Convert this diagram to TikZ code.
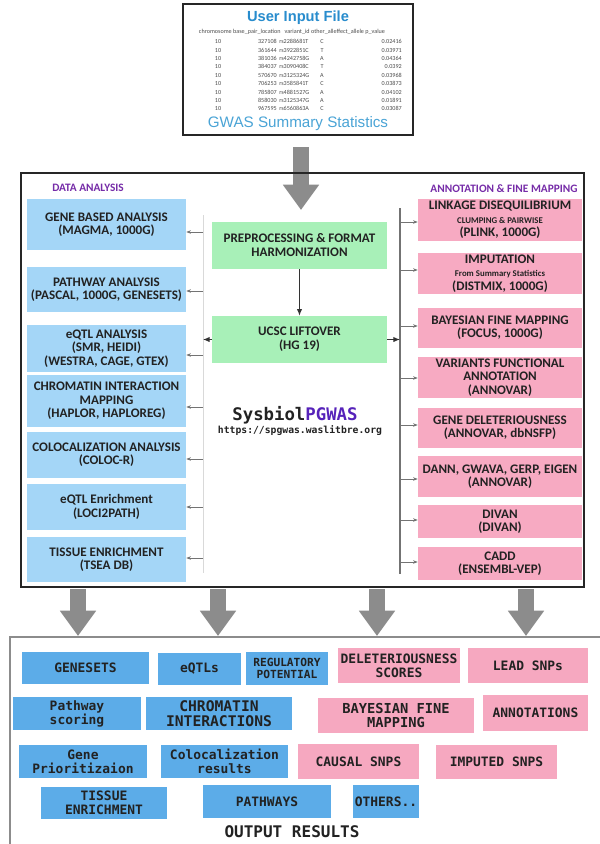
\documentclass[tikz,border=0pt]{standalone}
\usepackage{fontspec}
\newfontfamily\boxfont{Carlito}
\newfontfamily\headfont{Liberation Sans}
\newfontfamily\codefont{DejaVu Sans Mono}
\usetikzlibrary{arrows.meta}
\definecolor{anablue}{RGB}{164,214,247}
\definecolor{prepgreen}{RGB}{168,240,184}
\definecolor{annopink}{RGB}{247,170,194}
\definecolor{outblue}{RGB}{92,172,232}
\definecolor{outpink}{RGB}{246,168,192}
\definecolor{headpurple}{RGB}{118,44,168}
\definecolor{pgwaspurple}{RGB}{86,34,186}
\definecolor{titleblue}{RGB}{40,140,205}
\definecolor{gwasblue}{RGB}{74,164,214}
\definecolor{fatgray}{RGB}{140,140,140}
\definecolor{ink}{RGB}{34,34,34}
\newcommand{\subnote}[1]{{\fontsize{6.6}{7}\selectfont #1}}
\begin{document}
\begin{tikzpicture}[x=0.75pt,y=-0.75pt,
  every node/.style={inner sep=0pt,align=center,text=ink},
  spot/.style args={#1:#2:#3:#4}{minimum width=(#3-#1)*0.75pt,minimum height=(#4-#2)*0.75pt,at={({(#1+#3)/2},{(#2+#4)/2})}},
  anabox/.style={fill=anablue,font=\boxfont\bfseries\fontsize{9.8}{10}\selectfont},
  prepbox/.style={fill=prepgreen,font=\boxfont\bfseries\fontsize{9.8}{10.5}\selectfont},
  annobox/.style={fill=annopink,font=\boxfont\bfseries\fontsize{9.8}{10}\selectfont},
  outb/.style={fill=outblue,font=\codefont\bfseries\fontsize{9.7}{10.6}\selectfont},
  outp/.style={fill=outpink,font=\codefont\bfseries\fontsize{9.7}{10.6}\selectfont},
  tabtext/.style={font=\boxfont\fontsize{4.6}{5}\selectfont,text=black!70},
  sect/.style={font=\boxfont\bfseries\fontsize{8.5}{9}\selectfont,text=headpurple},
  tick/.style={draw=black!55,line width=0.5pt,-{Stealth[length=3.5pt,width=2.6pt]}},
  hub/.style={draw=black!80,line width=0.7pt,-{Latex[length=5pt,width=4pt]}},
  fat/.style={draw=fatgray,line width=12pt,-{Triangle[length=19pt,width=26pt]}}]
\useasboundingbox[fill=white] (0,0) rectangle (600,844);

% input file
\node[draw=black!85,line width=1.5pt,spot=183:4:413:135] (inputbox) {};
\node[font=\headfont\bfseries\fontsize{11}{11}\selectfont,text=titleblue] (inputtitle) at (298,18) {User Input File};
\node[tabtext] (tabhead) at (292,32) {chromosome base\_pair\_location\ \ \ variant\_id other\_alleffect\_allele p\_value};
\foreach \bp/\rs/\al/\pv [count=\i from 0] in {327108/rs2288681T/C/0.02416,361644/rs3922851C/T/0.03971,381036/rs4242758G/A/0.04364,384037/rs3090408C/T/0.0392,570670/rs3125324G/A/0.03968,706253/rs3585841T/C/0.03873,785807/rs4881527G/A/0.04102,858030/rs3125347G/A/0.01891,967595/rs6560863A/C/0.03087}{
  \pgfmathsetmacro{\ry}{41.7+8.4*\i}
  \node[tabtext] (chr\i) at (218,\ry) {10};
  \node[tabtext,anchor=east] (bp\i) at (277,\ry) {\bp};
  \node[tabtext,anchor=west] (rs\i) at (279,\ry) {\rs};
  \node[tabtext] (al\i) at (322,\ry) {\al};
  \node[tabtext,anchor=east] (pv\i) at (402,\ry) {\pv};
}
\node[font=\headfont\fontsize{11.4}{11.4}\selectfont,text=gwasblue] (inputfoot) at (298,124) {GWAS Summary Statistics};

\coordinate (feed) at (301,147);
\coordinate (feedtip) at (301,210);
\draw[fat] (feed) -- (feedtip);

% analysis frame
\node[draw=black!85,line width=1.9pt,spot=21:173:584:587] (analysis) {};
\node[sect] (datahead) at (88,188) {DATA ANALYSIS};
\node[sect] (annohead) at (504,189) {ANNOTATION \& FINE MAPPING};

\coordinate (lbustop) at (203,215);
\coordinate (lbusbot) at (203,573);
\draw[draw=black!15,line width=0.6pt] (lbustop) -- (lbusbot);
\coordinate (rbustop) at (400,208);
\coordinate (rbusbot) at (400,574);
\draw[draw=black!55,line width=0.9pt] (rbustop) -- (rbusbot);

\foreach \n/\ya/\yb/\ay/\txt in {1/199/250/232/{GENE BASED ANALYSIS\\(MAGMA, 1000G)},
    2/267/312/291/{PATHWAY ANALYSIS\\(PASCAL, 1000G, GENESETS)},
    3/325/372/355/{eQTL ANALYSIS\\(SMR, HEIDI)\\(WESTRA, CAGE, GTEX)},
    4/375/427/407/{CHROMATIN INTERACTION\\MAPPING\\(HAPLOR, HAPLOREG)},
    5/432/478/459/{COLOCALIZATION ANALYSIS\\(COLOC-R)},
    6/484/530/507/{eQTL Enrichment\\(LOCI2PATH)},
    7/537/582/558/{TISSUE ENRICHMENT\\(TSEA DB)}}{
  \node[anabox,spot=27:\ya:186:\yb] (ana\n) {\txt};
  \coordinate (lbus\n) at (203,\ay);
  \draw[tick] (lbus\n) -- (lbus\n -| ana\n.east);
}

\foreach \n/\ya/\yb/\ay/\txt in {1/199/241/222/{LINKAGE DISEQUILIBRIUM\\\subnote{CLUMPING \& PAIRWISE}\\(PLINK, 1000G)},
    2/253/294/270/{IMPUTATION\\\subnote{From Summary Statistics}\\(DISTMIX, 1000G)},
    3/308/348/326/{BAYESIAN FINE MAPPING\\(FOCUS, 1000G)},
    4/357/398/378/{VARIANTS FUNCTIONAL\\ANNOTATION\\(ANNOVAR)},
    5/408/448/425/{GENE DELETERIOUSNESS\\(ANNOVAR, dbNSFP)},
    6/456/497/479/{DANN, GWAVA, GERP, EIGEN\\(ANNOVAR)},
    7/505/538/520/{DIVAN\\(DIVAN)},
    8/547/580/562/{CADD\\(ENSEMBL-VEP)}}{
  \node[annobox,spot=418:\ya:582:\yb] (anno\n) {\txt};
  \coordinate (rbus\n) at (400,\ay);
  \draw[tick] (rbus\n) -- (rbus\n -| anno\n.west);
}

\node[prepbox,spot=212:222:387:269] (prep) {PREPROCESSING \& FORMAT\\HARMONIZATION};
\node[prepbox,spot=212:316:387:363] (lift) {UCSC LIFTOVER\\(HG 19)};
\draw[hub] (prep) -- (lift);
\draw[hub] (lift.west) -- (lift.west -| lbustop);
\draw[hub] (lift.east) -- (lift.east -| rbustop);

\node[font=\codefont\bfseries\fontsize{13}{13}\selectfont] (sysbiol) at (295,415) {Sysbiol\textcolor{pgwaspurple}{PGWAS}};
\node[font=\codefont\bfseries\fontsize{7.3}{8}\selectfont] (url) at (300,431) {https://spgwas.waslitbre.org};

\foreach \x [count=\i] in {78,218,377,526}{
  \coordinate (out\i) at (\x,589);
  \coordinate (in\i) at (\x,636);
  \draw[fat] (out\i) -- (in\i);
}

% output results
\draw[draw=black!45,line width=1.2pt] (10,850) |- (606,637);
\node[outb,spot=22:652:149:684] (genesets) {GENESETS};
\node[outb,spot=158:653:241:685] (eqtls) {eQTLs};
\node[outb,spot=246:652:328:685,font=\codefont\bfseries\fontsize{8.4}{9.5}\selectfont] (regpot) {REGULATORY\\POTENTIAL};
\node[outp,spot=338:648:460:683] (delet) {DELETERIOUSNESS\\SCORES};
\node[outp,spot=468:648:588:683] (leadsnp) {LEAD SNPs};
\node[outb,spot=13:697:141:730] (pathscore) {Pathway\\scoring};
\node[outb,spot=146:697:292:730,font=\codefont\bfseries\fontsize{11}{11.5}\selectfont] (chromint) {CHROMATIN\\INTERACTIONS};
\node[outp,spot=318:698:474:733,font=\codefont\bfseries\fontsize{10.3}{10.6}\selectfont] (bayes) {BAYESIAN FINE\\MAPPING};
\node[outp,spot=483:695:588:731] (annot) {ANNOTATIONS};
\node[outb,spot=19:745:147:778] (geneprio) {Gene\\Prioritizaion};
\node[outb,spot=161:745:288:778] (coloc) {Colocalization\\results};
\node[outp,spot=298:744:419:779] (causal) {CAUSAL SNPS};
\node[outp,spot=436:745:557:779] (imputed) {IMPUTED SNPS};
\node[outb,spot=41:787:167:819] (tissue) {TISSUE\\ENRICHMENT};
\node[outb,spot=203:785:331:818] (pathways) {PATHWAYS};
\node[outb,spot=353:785:419:818] (others) {OTHERS..};
\node[font=\codefont\bfseries\fontsize{12}{12}\selectfont] (outtitle) at (292,832) {OUTPUT RESULTS};
\end{tikzpicture}
\end{document}
